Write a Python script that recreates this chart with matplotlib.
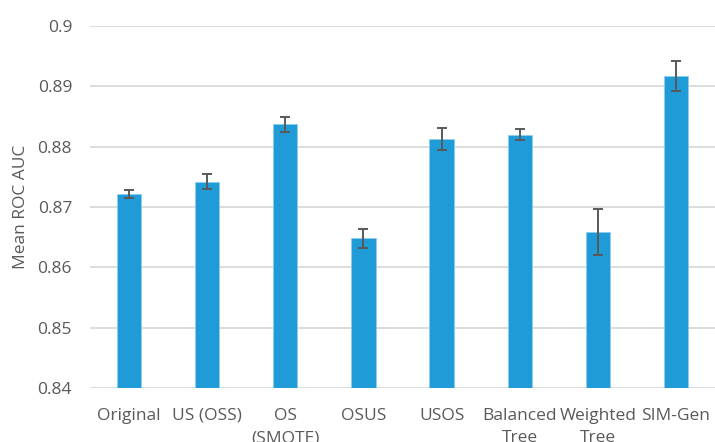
import matplotlib
matplotlib.use("Agg")
import matplotlib.pyplot as plt
import numpy as np

categories = ["Original", "US (OSS)", "OS\n(SMOTE)", "OSUS", "USOS",
              "Balanced\nTree", "Weighted\nTree", "SIM-Gen"]
mean_auc = [0.8722, 0.8742, 0.8837, 0.8648, 0.8813, 0.8820, 0.8658, 0.8917]
err_auc = [0.0007, 0.0012, 0.0012, 0.0016, 0.0018, 0.0009, 0.0038, 0.0025]
y_ticks = [0.84, 0.85, 0.86, 0.87, 0.88, 0.89, 0.90]
y_tick_labels = ["0.84", "0.85", "0.86", "0.87", "0.88", "0.89", "0.9"]

plt.rcParams["font.family"] = ["Open Sans", "DejaVu Sans"]
text_color = "#595959"
grid_color = "#d9d9d9"
bar_color = "#1f9bd7"

fig = plt.figure(figsize=(7.15, 4.42), dpi=100)
ax = fig.add_axes([0.126, 0.122, 0.874, 0.819])

x = np.arange(len(categories))
ax.bar(x, mean_auc, width=0.31, color=bar_color, edgecolor="#8fcbee",
       linewidth=0.6, zorder=3,
       yerr=err_auc, error_kw=dict(ecolor="#595959", elinewidth=1.4,
                                   capsize=3.8, capthick=1.4, zorder=4))

ax.set_xlim(-0.5, len(categories) - 0.5)
ax.set_ylim(0.84, 0.90)
ax.set_yticks(y_ticks)
ax.set_yticklabels(y_tick_labels)
ax.set_xticks(x)
ax.set_xticklabels(categories, linespacing=1.55, va="top")

ax.grid(axis="y", color=grid_color, linewidth=1.3, zorder=0)
for s in ax.spines.values():
    s.set_visible(False)
ax.tick_params(axis="both", length=0, labelsize=12.5, colors=text_color)
ax.tick_params(axis="y", pad=13)
ax.tick_params(axis="x", pad=14)
ax.set_ylabel("Mean ROC AUC", fontsize=12.5, color=text_color, labelpad=6)

fig.savefig("out.png", dpi=100)
